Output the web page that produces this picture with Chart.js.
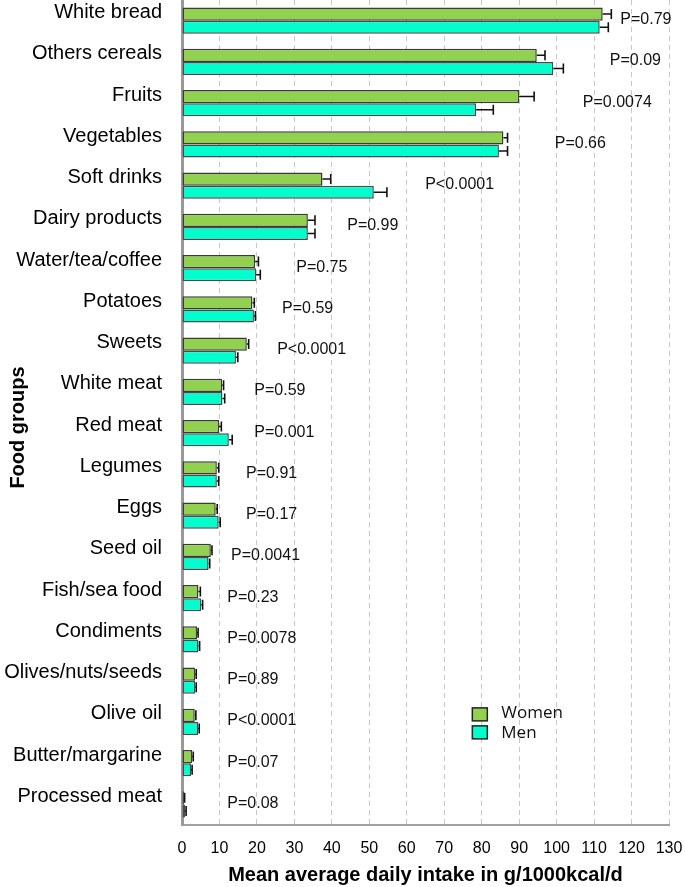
<!DOCTYPE html>
<html>
<head>
<meta charset="utf-8">
<script src="https://cdn.jsdelivr.net/npm/chart.js@4.4.1/dist/chart.umd.min.js"></script>
<style>
    body { margin: 0; background: #fff; }
    #wrap { width: 685px; height: 887px; position: relative; }
</style>
</head>
<body>
<div id="wrap"><canvas id="intakeChart"></canvas></div>
<script>
const categories = ["White bread", "Others cereals", "Fruits", "Vegetables", "Soft drinks", "Dairy products",
    "Water/tea/coffee", "Potatoes", "Sweets", "White meat", "Red meat", "Legumes", "Eggs", "Seed oil",
    "Fish/sea food", "Condiments", "Olives/nuts/seeds", "Olive oil", "Butter/margarine", "Processed meat"];

const womenMean = [112.3, 94.7, 90.0, 85.8, 37.5, 33.6, 19.5, 18.8, 17.3, 10.7, 9.9, 9.3, 9.0, 7.7, 4.4, 4.0, 3.5, 3.4, 2.7, 0.5];
const womenSE = [2.3, 2.2, 4.0, 1.1, 2.2, 1.9, 0.9, 0.5, 0.5, 0.4, 0.6, 0.5, 0.4, 0.3, 0.5, 0.3, 0.3, 0.3, 0.3, 0.2];
const menMean = [111.5, 99.1, 78.5, 84.6, 51.2, 33.6, 19.8, 19.2, 14.4, 10.8, 12.5, 9.3, 9.8, 7.1, 5.1, 4.4, 3.5, 4.3, 2.4, 0.8];
const menSE = [2.3, 2.7, 4.6, 2.3, 3.5, 1.9, 1.1, 0.4, 0.5, 0.6, 0.9, 0.5, 0.4, 0.3, 0.4, 0.3, 0.3, 0.3, 0.3, 0.3];

const pValues = ["P=0.79", "P=0.09", "P=0.0074", "P=0.66", "P<0.0001", "P=0.99", "P=0.75", "P=0.59", "P<0.0001", "P=0.59",
    "P=0.001", "P=0.91", "P=0.17", "P=0.0041", "P=0.23", "P=0.0078", "P=0.89", "P<0.0001", "P=0.07", "P=0.08"];
// where each p-value label starts, in axis units
const pLabelAt = [117.0, 114.2, 107.0, 99.5, 64.9, 44.1, 30.5, 26.7, 25.4, 19.3, 19.3, 17.1, 17.1, 13.1, 12.1, 12.1, 12.1, 12.1, 12.1, 12.1];

const xTicksMax = 130;
const errors = [womenSE, menSE];

// one-sided error bars (mean -> mean + SE) with a cap
const errorBarPlugin = {
    id: "errorBars",
    afterDatasetsDraw(chart) {
        const ctx = chart.ctx;
        const xScale = chart.scales.x;
        ctx.save();
        ctx.strokeStyle = "#111";
        ctx.lineWidth = 1.6;
        chart.data.datasets.forEach((ds, di) => {
            const meta = chart.getDatasetMeta(di);
            meta.data.forEach((bar, i) => {
                const xEnd = xScale.getPixelForValue(ds.data[i] + errors[di][i]);
                const half = bar.height * 0.38;
                ctx.beginPath();
                ctx.moveTo(bar.x, bar.y);
                ctx.lineTo(xEnd, bar.y);
                ctx.moveTo(xEnd, bar.y - half);
                ctx.lineTo(xEnd, bar.y + half);
                ctx.stroke();
            });
        });
        ctx.restore();
    }
};

const pLabelPlugin = {
    id: "pLabels",
    afterDatasetsDraw(chart) {
        const ctx = chart.ctx;
        const xScale = chart.scales.x;
        const yScale = chart.scales.y;
        ctx.save();
        ctx.font = "16px 'Liberation Sans', Arial, sans-serif";
        ctx.fillStyle = "#111";
        ctx.textAlign = "left";
        ctx.textBaseline = "middle";
        pValues.forEach((txt, i) => {
            ctx.fillText(txt, xScale.getPixelForValue(pLabelAt[i]), yScale.getPixelForValue(i) - 1);
        });
        ctx.restore();
    }
};

const boxLegendPlugin = {
    id: "boxLegend",
    afterDraw(chart) {
        const ctx = chart.ctx;
        const left = chart.scales.x.getPixelForValue(77.5);
        const mid = chart.scales.y.getPixelForValue(17);
        ctx.save();
        ctx.font = "17px 'Open Sans', sans-serif";
        ctx.textBaseline = "middle";
        chart.data.datasets.forEach((ds, i) => {
            const top = mid - 14 + i * 18;
            ctx.fillStyle = ds.backgroundColor;
            ctx.fillRect(left, top, 15, 13);
            ctx.strokeStyle = "#222";
            ctx.lineWidth = 1.5;
            ctx.strokeRect(left, top, 15, 13);
            ctx.fillStyle = "#111";
            ctx.fillText(ds.label, left + 29, top + 5 + i * 2);
        });
        ctx.restore();
    }
};

// rotated y-axis title, centred a bit below the plot's middle like the original
const yTitlePlugin = {
    id: "yTitle",
    afterDraw(chart) {
        const ctx = chart.ctx;
        const area = chart.chartArea;
        ctx.save();
        ctx.translate(18, (area.top + area.bottom) / 2 + 15);
        ctx.rotate(-Math.PI / 2);
        ctx.font = "bold 20px 'Liberation Sans', Arial, sans-serif";
        ctx.fillStyle = "#000";
        ctx.textAlign = "center";
        ctx.textBaseline = "middle";
        ctx.fillText("Food groups", 0, 0);
        ctx.restore();
    }
};

new Chart(document.getElementById("intakeChart"), {
    type: "bar",
    data: {
        labels: categories,
        datasets: [
            {
                label: "Women",
                data: womenMean,
                backgroundColor: "#92d050",
                borderColor: "#3a3a3a",
                borderWidth: 1.5,
                borderSkipped: false
            },
            {
                label: "Men",
                data: menMean,
                backgroundColor: "#00ffcc",
                borderColor: "#4a4a4a",
                borderWidth: 1.5,
                borderSkipped: false
            }
        ]
    },
    options: {
        indexAxis: "y",
        responsive: true,
        maintainAspectRatio: false,
        animation: false,
        categoryPercentage: 0.64,
        barPercentage: 1,
        layout: { padding: { top: 0, right: 16, left: 0, bottom: 0 } },
        plugins: {
            legend: { display: false },
            tooltip: { enabled: false }
        },
        scales: {
            x: {
                min: 0,
                max: xTicksMax,
                ticks: {
                    stepSize: 10,
                    color: "#000",
                    padding: 14,
                    font: { family: "'Liberation Sans', Arial, sans-serif", size: 16 }
                },
                grid: {
                    color: "#c8c8c8",
                    lineWidth: 1,
                    drawTicks: false
                },
                border: { color: "#a0a0a0", width: 2, dash: [5, 4] },
                title: {
                    display: true,
                    text: "Mean average daily intake in g/1000kcal/d",
                    color: "#000",
                    padding: { top: 7, bottom: 0 },
                    font: { family: "'Liberation Sans', Arial, sans-serif", size: 20, weight: "bold" }
                },
                afterFit(scale) {
                    scale.height = 62;
                    scale.paddingLeft = 0;
                    scale.paddingRight = 0;
                }
            },
            y: {
                ticks: {
                    autoSkip: false,
                    color: "#000",
                    padding: 20,
                    labelOffset: -8,
                    font: { family: "'Liberation Sans', Arial, sans-serif", size: 20 }
                },
                grid: { display: false, drawTicks: false },
                border: { color: "#999", width: 3 },
                afterFit(scale) {
                    scale.width = 182;
                    scale.paddingTop = 0;
                    scale.paddingBottom = 0;
                }
            }
        }
    },
    plugins: [errorBarPlugin, pLabelPlugin, boxLegendPlugin, yTitlePlugin]
});
</script>
</body>
</html>
